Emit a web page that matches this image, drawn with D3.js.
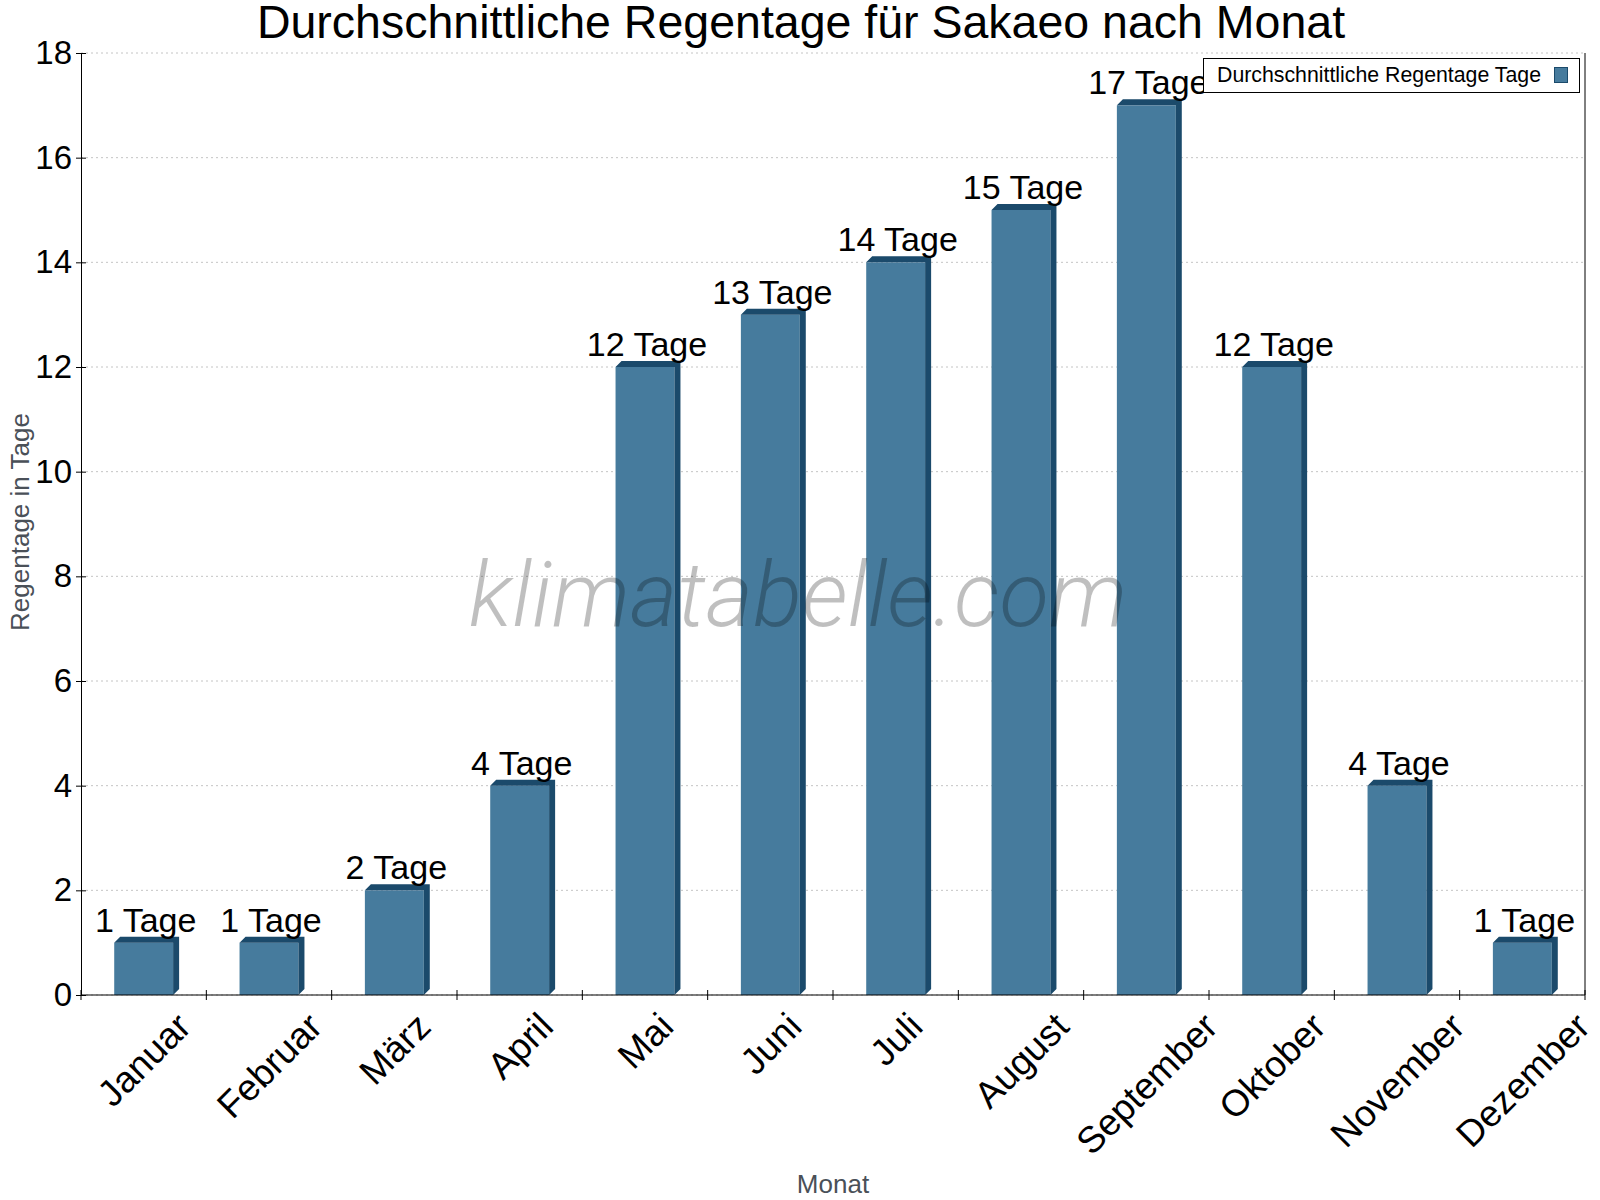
<!DOCTYPE html>
<html>
<head>
<meta charset="utf-8">
<script src="https://cdn.jsdelivr.net/npm/d3@7"></script>
<style>
  body { margin: 0; background: #fff; }
  svg { display: block; font-family: "Liberation Sans", Arial, sans-serif; }
</style>
</head>
<body>
<svg class="chart" width="1600" height="1200"></svg>
<script>
const months = ["Januar", "Februar", "März", "April", "Mai", "Juni", "Juli",
  "August", "September", "Oktober", "November", "Dezember"];
const rainDays = [1, 1, 2, 4, 12, 13, 14, 15, 17, 12, 4, 1];
const yTicks = [0, 2, 4, 6, 8, 10, 12, 14, 16, 18];

const frontColor = "#467b9d";
const darkColor = "#1b4a6b";
const depth = 6;

const svg = d3.select(".chart");
const margin = { top: 53, right: 15, bottom: 205, left: 81 };
const width = 1600 - margin.left - margin.right;
const height = 1200 - margin.top - margin.bottom;

const xScale = d3.scaleBand().domain(months).range([margin.left, margin.left + width]);
const yScale = d3.scaleLinear().domain([0, 18]).range([margin.top + height, margin.top]);
const barW = xScale.bandwidth() * 0.47;

// gridlines
svg.append("g")
  .selectAll("line")
  .data(yTicks)
  .join("line")
  .attr("x1", margin.left)
  .attr("x2", margin.left + width)
  .attr("y1", d => yScale(d))
  .attr("y2", d => yScale(d))
  .attr("stroke", "#c4c4c4")
  .attr("stroke-width", 1)
  .attr("stroke-dasharray", "2,3");

// bars with a little 3d look
const bars = svg.append("g")
  .selectAll("g")
  .data(months.map((m, i) => ({ month: m, value: rainDays[i] })))
  .join("g");

bars.append("rect")
  .attr("x", d => xScale(d.month) + (xScale.bandwidth() - barW) / 2)
  .attr("y", d => yScale(d.value))
  .attr("width", barW)
  .attr("height", d => yScale(0) - yScale(d.value))
  .attr("fill", frontColor);

bars.append("path")
  .attr("fill", darkColor)
  .attr("d", d => {
    const x0 = xScale(d.month) + (xScale.bandwidth() - barW) / 2;
    const x1 = x0 + barW;
    const yt = yScale(d.value);
    const yb = yScale(0);
    // top face + side face
    return `M${x0},${yt}L${x0 + depth},${yt - depth}L${x1 + depth},${yt - depth}L${x1},${yt}Z` +
      `M${x1},${yt}L${x1 + depth},${yt - depth}L${x1 + depth},${yb - depth}L${x1},${yb}Z`;
  });

// value labels
bars.append("text")
  .attr("x", d => xScale(d.month) + xScale.bandwidth() / 2 + 2)
  .attr("y", d => yScale(d.value) - 11)
  .attr("text-anchor", "middle")
  .attr("font-size", 34)
  .attr("fill", "#000")
  .text(d => `${d.value} Tage`);

// watermark
svg.append("text")
  .attr("x", 798)
  .attr("y", 626)
  .attr("text-anchor", "middle")
  .attr("font-family", "Roboto, sans-serif")
  .attr("font-weight", 300)
  .attr("font-style", "italic")
  .attr("font-size", 91)
  .attr("fill", "#000")
  .attr("fill-opacity", 0.25)
  .text("klimatabelle.com");

// axes
const yAxis = svg.append("g")
  .attr("transform", `translate(${margin.left},0)`)
  .call(d3.axisLeft(yScale).tickValues(yTicks).tickSize(5).tickPadding(4));
yAxis.select(".domain").attr("stroke", "#000");
yAxis.selectAll(".tick line").attr("x2", 5).attr("x1", -5);
yAxis.selectAll("text").attr("font-size", 33).attr("fill", "#000").attr("font-family", null);

svg.append("line")
  .attr("x1", margin.left + width).attr("x2", margin.left + width)
  .attr("y1", margin.top).attr("y2", margin.top + height)
  .attr("stroke", "#000");

const xAxis = svg.append("g")
  .attr("transform", `translate(0,${margin.top + height})`);
xAxis.append("line")
  .attr("x1", margin.left).attr("x2", margin.left + width)
  .attr("stroke", "#000");
const boundaries = months.map(m => xScale(m)).concat([margin.left + width]);
xAxis.selectAll("line.tk")
  .data(boundaries)
  .join("line")
  .attr("class", "tk")
  .attr("x1", d => d).attr("x2", d => d)
  .attr("y1", -5).attr("y2", 5)
  .attr("stroke", "#000");

const xFont = 37;
const xLabels = svg.append("g")
  .selectAll("text")
  .data(months)
  .join("text")
  .attr("text-anchor", "middle")
  .attr("font-size", xFont)
  .attr("dy", "0.36em")
  .attr("fill", "#000")
  .text(d => d);
xLabels.each(function (d) {
  const w = this.getComputedTextLength();
  const cx = xScale(d) + xScale.bandwidth() / 2;
  const cy = 1010 + (w + 0.716 * xFont) / (2 * Math.SQRT2);
  d3.select(this)
    .attr("x", cx)
    .attr("y", cy)
    .attr("transform", `rotate(-45,${cx},${cy})`);
});

// titles
svg.append("text")
  .attr("x", 801)
  .attr("y", 38)
  .attr("text-anchor", "middle")
  .attr("font-size", 46.5)
  .attr("fill", "#000")
  .text("Durchschnittliche Regentage für Sakaeo nach Monat");

svg.append("text")
  .attr("x", margin.left + width / 2)
  .attr("y", 1193)
  .attr("text-anchor", "middle")
  .attr("font-size", 26)
  .attr("fill", "#4a5058")
  .text("Monat");

svg.append("text")
  .attr("transform", "translate(29,522) rotate(-90)")
  .attr("text-anchor", "middle")
  .attr("font-size", 26)
  .attr("fill", "#4a5058")
  .text("Regentage in Tage");

// legend
const legend = svg.append("g");
legend.append("rect")
  .attr("x", 1203.5).attr("y", 58.5)
  .attr("width", 376).attr("height", 34)
  .attr("fill", "#fff").attr("stroke", "#000");
legend.append("text")
  .attr("x", 1217).attr("y", 82)
  .attr("font-size", 21.3)
  .attr("fill", "#000")
  .text("Durchschnittliche Regentage Tage");
legend.append("rect")
  .attr("x", 1554.5).attr("y", 67.5)
  .attr("width", 13).attr("height", 15)
  .attr("fill", frontColor).attr("stroke", darkColor);
</script>
</body>
</html>
